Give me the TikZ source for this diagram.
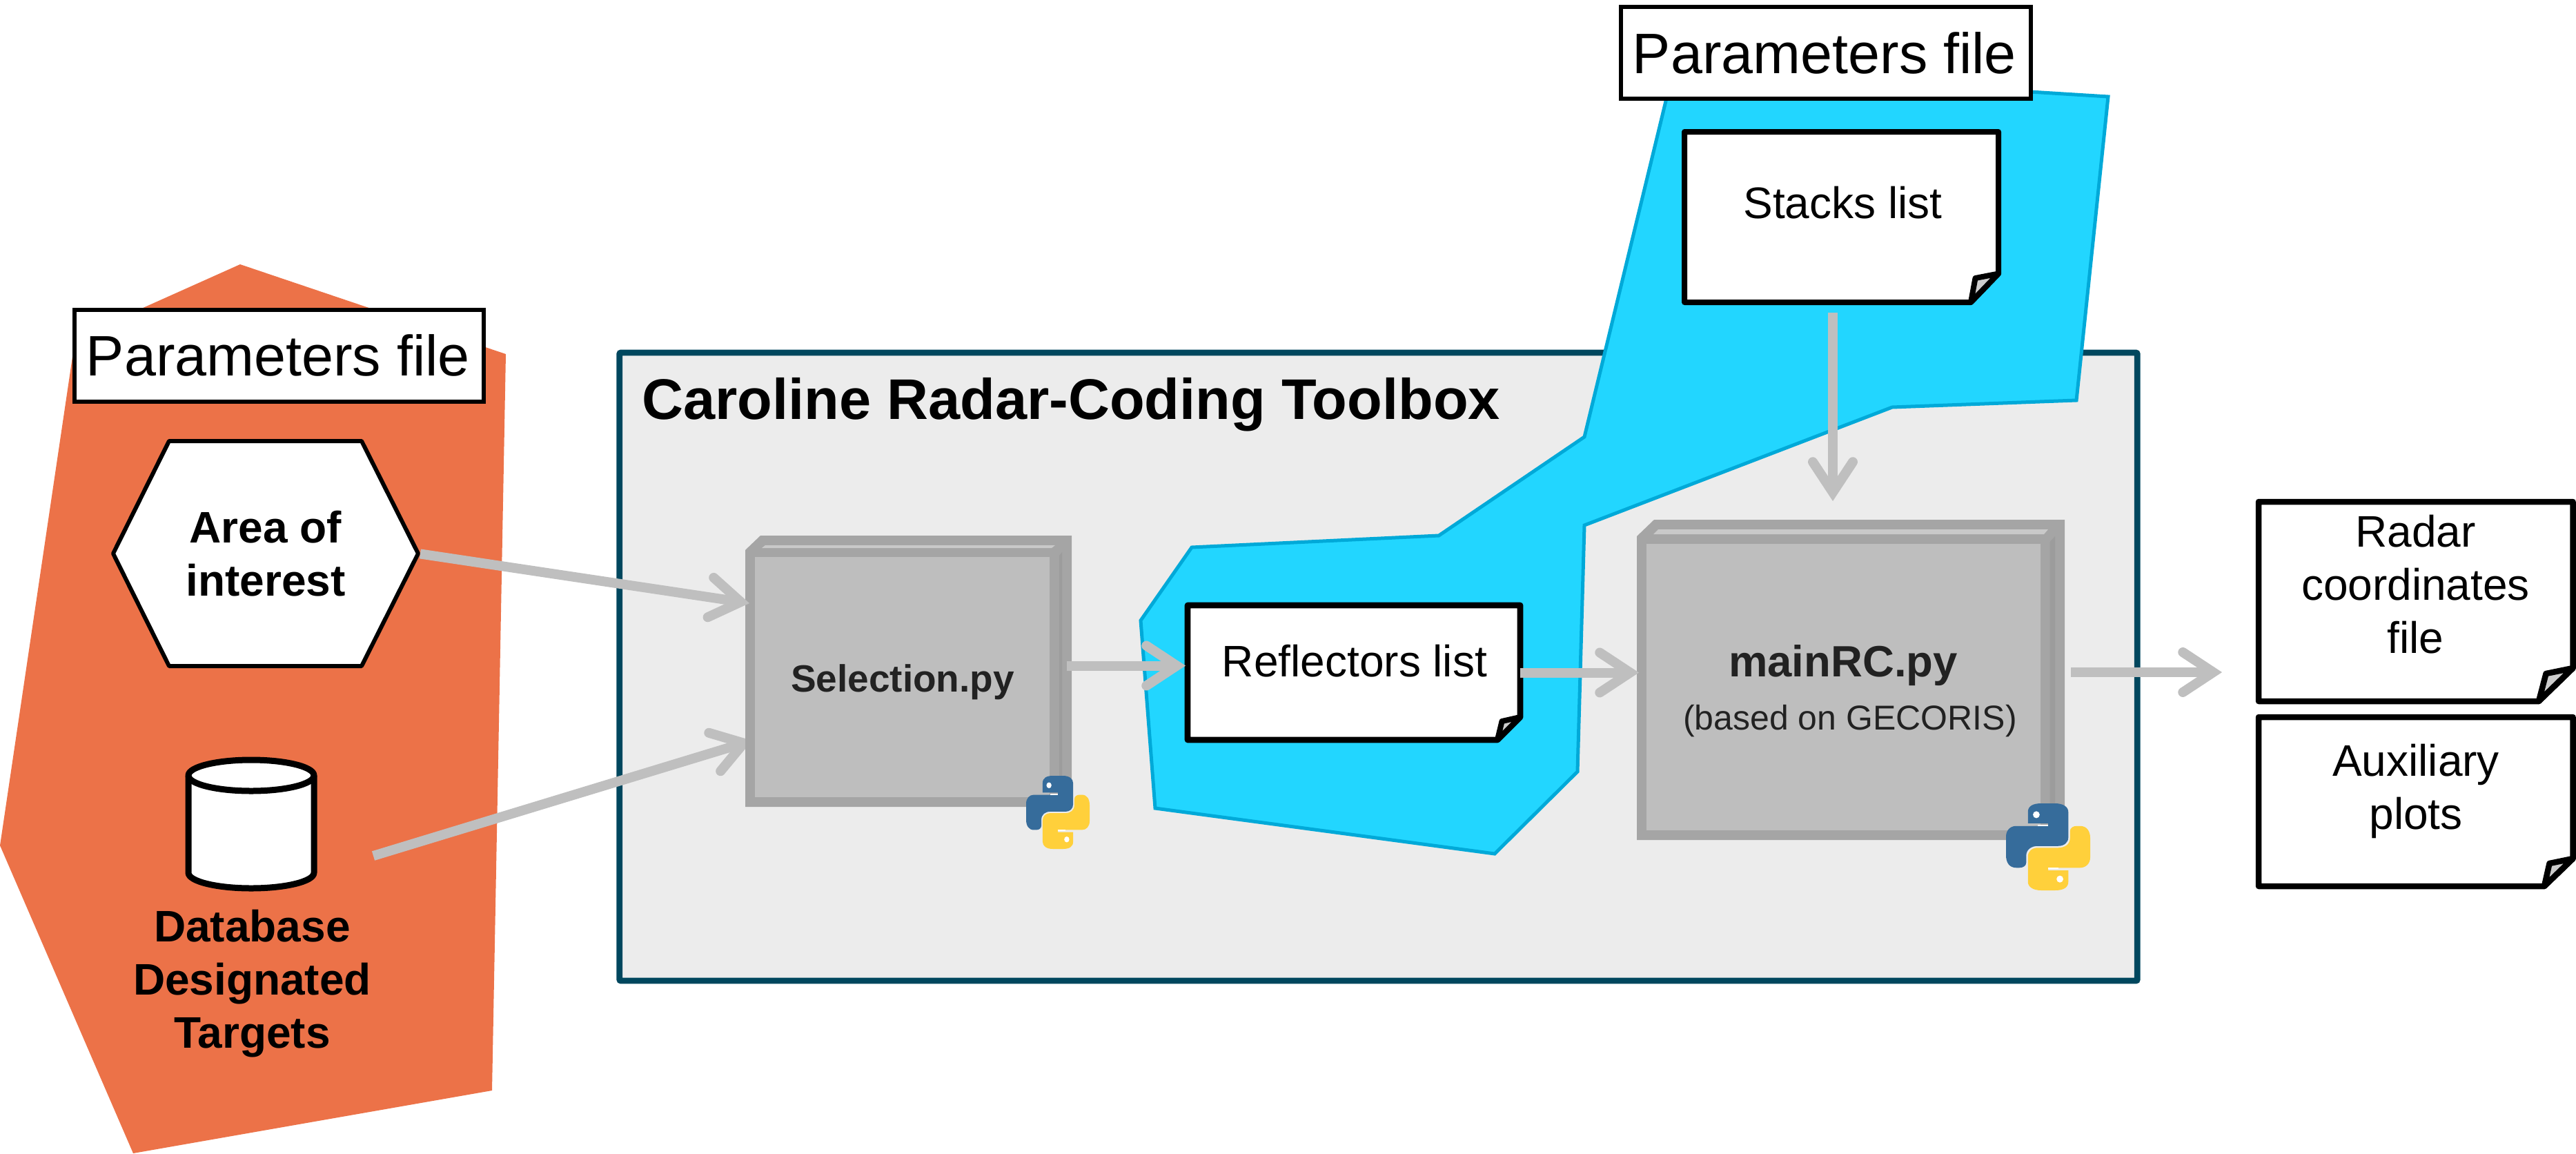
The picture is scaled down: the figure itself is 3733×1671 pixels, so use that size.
\documentclass[tikz,border=0pt]{standalone}
\usepackage{fontspec}
\setmainfont{Liberation Sans}
\usetikzlibrary{arrows.meta}
\definecolor{orangeback}{HTML}{EC7248}
\definecolor{blueback}{HTML}{22D6FF}
\definecolor{blueedge}{HTML}{00A9D8}
\definecolor{tealedge}{HTML}{00475E}
\definecolor{toolbg}{HTML}{ECECEC}
\definecolor{cubeframe}{HTML}{A5A5A5}
\definecolor{cubeface}{HTML}{BEBEBE}
\definecolor{cubelight}{HTML}{C9C9C9}
\definecolor{cubedark}{HTML}{9C9C9C}
\definecolor{flowgrey}{HTML}{BFBFBF}
\definecolor{foldgrey}{HTML}{CDCDCD}
\definecolor{pyblue}{HTML}{366C9B}
\definecolor{pyyellow}{HTML}{FFD03B}
\definecolor{cubetext}{HTML}{222222}
\newcommand{\fsa}{\fontsize{64}{77}\selectfont}
\newcommand{\fsb}{\fontsize{82.7}{90}\selectfont}
\tikzset{
  x=1pt,y=-1pt,
  flow/.style={draw=flowgrey,line width=14pt,
    -{Straight Barb[length=44pt,width=58pt,line width=14pt,line cap=round,line join=miter]}},
  parambox/.style={draw=black,line width=5.5pt,fill=white,inner sep=0pt},
  hidden/.style={inner sep=0pt,outer sep=0pt},
  regular/.style={inner sep=0pt,outer sep=0pt,anchor=base,text=black},
  multi/.style={inner sep=0pt,outer sep=0pt,align=center,text=black,font=\fsa},
  multibold/.style={multi,font=\fsa\bfseries},
  cubetxt/.style={inner sep=0pt,outer sep=0pt,anchor=base,text=cubetext},
  noteline/.style={draw=black,line join=round,fill=white},
  foldline/.style={draw=black,line join=round,fill=foldgrey},
}
\newcommand{\pylogo}[4]{%
  \begin{scope}[shift={(#1,#2)},xscale=#3,yscale=#4]
    \fill[pyblue] (26,10) .. controls (26,3) and (32,0) .. (42,0) -- (58,0)
      .. controls (68,0) and (74,4) .. (74,10) -- (74,39)
      .. controls (74,45) and (69,49) .. (62,49) -- (38,49)
      .. controls (30,49) and (24,53) .. (24,60) -- (24,68)
      .. controls (24,72) and (20,74) .. (16,74) -- (12,74)
      .. controls (4,74) and (0,68) .. (0,60) -- (0,38)
      .. controls (0,31) and (5,26) .. (12,26) -- (50,26) -- (50,23) -- (26,23) -- cycle;
    \fill[pyyellow] (74,90) .. controls (74,97) and (68,100) .. (58,100) -- (42,100)
      .. controls (32,100) and (26,96) .. (26,90) -- (26,61)
      .. controls (26,55) and (31,51) .. (38,51) -- (62,51)
      .. controls (70,51) and (76,47) .. (76,40) -- (76,32)
      .. controls (76,28) and (80,26) .. (84,26) -- (88,26)
      .. controls (96,26) and (100,32) .. (100,40) -- (100,62)
      .. controls (100,69) and (95,74) .. (88,74) -- (50,74) -- (50,77) -- (74,77) -- cycle;
    \fill[white] (36,13) circle[x radius=4,y radius=4];
    \fill[white] (64,87) circle[x radius=4,y radius=4];
    \fill[white] (38,24.5) rectangle (50,26);
    \fill[white] (50,74) rectangle (62,75.5);
  \end{scope}}
\begin{document}
\begin{tikzpicture}
\useasboundingbox (0,0) rectangle (3733,1671);
% orange group
\fill[orangeback] (109,490) -- (348,383) -- (733,513) -- (713,1580) -- (193,1671) -- (0,1225) -- cycle;
% toolbox
\node[draw=tealedge,fill=toolbg,line width=8.7pt,rounded corners=2pt,minimum width=2199.5pt,minimum height=910pt,inner sep=0pt] (toolbox) at (1997.5,966) {};
\node[regular] (tooltitle) at (1552,607) {\fontsize{83}{90}\selectfont\bfseries Caroline Radar-Coding Toolbox};
% left parameters
\node[parambox,minimum width=593pt,minimum height=133pt] (paramA) at (404.5,515.5) {};
\node[regular] (paramAtext) at (403,544) {\fsb Parameters file};
% hexagon
\draw[black,fill=white,line width=6pt,line join=round] (164,802) -- (245,639) -- (524,639) -- (606,802) -- (524,965) -- (245,965) -- cycle;
\node[hidden,minimum width=442pt,minimum height=326pt] (hex) at (385,802) {};
\node[multibold] (hextext) at (385,802) {Area of\\interest};
% database
\draw[black,fill=white,line width=9pt,line join=round] (273,1123.5) -- (273,1264.5) .. controls (273,1277) and (314,1287) .. (364,1287) .. controls (414,1287) and (455,1277) .. (455,1264.5) -- (455,1123.5) .. controls (455,1111) and (414,1101) .. (364,1101) .. controls (314,1101) and (273,1111) .. (273,1123.5) -- cycle;
\draw[black,line width=9pt] (273,1123.5) .. controls (273,1136) and (314,1146) .. (364,1146) .. controls (414,1146) and (455,1136) .. (455,1123.5);
\node[hidden,minimum width=182pt,minimum height=186pt] (db) at (364,1194) {};
\node[multibold] (dbtext) at (365.5,1425) {Database\\Designated\\Targets};
% lower arrow sits beneath the cube
\coordinate (dbOut) at (541,1240);
\coordinate (selInB) at (1090,1073);
\draw[flow] (dbOut) -- (selInB);
% selection cube
\fill[cubeframe] (1080,797) -- (1102,776) -- (1553,776) -- (1553,1169) -- (1080,1169) -- cycle;
\fill[cubelight] (1104,794) -- (1109,790) -- (1529,790) -- (1524,794) -- cycle;
\fill[cubedark] (1535,805) -- (1539,800) -- (1539,1125) -- (1535,1125) -- cycle;
\node[hidden,fill=cubeface,minimum width=427pt,minimum height=348pt] (sel) at (1307.5,981) {};
\node[cubetxt] (seltext) at (1308,1002) {\fontsize{55}{60}\selectfont\bfseries Selection.py};
\pylogo{1487}{1124}{0.92}{1.06}
% hex to selection
\coordinate (selInA) at (1086,874);
\draw[flow,shorten <=3pt] (hex.east) -- (selInA);
% blue group
\draw[blueedge,fill=blueback,line width=5pt,line join=miter] (2425,101) -- (3055,140) -- (3009,580) -- (2742,590) -- (2296,761) -- (2286,1118) -- (2166,1237) -- (1674,1171) -- (1653,899) -- (1727,793) -- (2085,776) -- (2296,633) -- cycle;
% right parameters
\node[parambox,minimum width=594pt,minimum height=133pt] (paramB) at (2646,76.5) {};
\node[regular] (paramBtext) at (2644,106) {\fsb Parameters file};
% stacks
\node[hidden,minimum width=455pt,minimum height=247pt] (stacks) at (2668.5,314.5) {};
\draw[noteline,line width=8pt] (2441,191) -- (2896,191) -- (2896,396.5) -- (2856,438) -- (2441,438) -- cycle;
\draw[foldline,line width=8pt] (2856,438) -- (2862.5,403) -- (2896,396.5) -- cycle;
\node[regular] (stackstext) at (2670.5,316) {\fsa Stacks list};
% reflectors
\node[hidden,minimum width=482pt,minimum height=195pt] (refl) at (1962,974.5) {};
\draw[noteline,line width=8.7pt] (1721,877) -- (2203,877) -- (2203,1039) -- (2170,1072) -- (1721,1072) -- cycle;
\draw[foldline,line width=8pt] (2170,1072) -- (2176.5,1045) -- (2203,1039) -- cycle;
\node[regular] (refltext) at (1963,980) {\fsa Reflectors list};
% main cube
\fill[cubeframe] (2372,777) -- (2397,753) -- (2992,753) -- (2992,1217) -- (2372,1217) -- cycle;
\fill[cubelight] (2396,774) -- (2403,767) -- (2968,767) -- (2962,774) -- cycle;
\fill[cubedark] (2970.5,785) -- (2978,777) -- (2978,1170) -- (2970.5,1170) -- cycle;
\node[hidden,fill=cubeface,minimum width=571pt,minimum height=415pt] (main) at (2671.5,995.5) {};
\node[cubetxt] (maintext) at (2671,980) {\fontsize{63.5}{70}\selectfont\bfseries mainRC.py};
\node[cubetxt] (mainsub) at (2681,1057) {\fontsize{50}{56}\selectfont (based on GECORIS)};
\pylogo{2907}{1164}{1.22}{1.26}
% outputs
\node[hidden,minimum width=455.5pt,minimum height=289pt] (radar) at (3500.75,871.5) {};
\draw[noteline,line width=8.5pt] (3273,727) -- (3728.5,727) -- (3728.5,968) -- (3679,1016) -- (3273,1016) -- cycle;
\draw[foldline,line width=8.5pt] (3679,1016) -- (3689.5,976) -- (3728.5,968) -- cycle;
\node[multi] (radartext) at (3500.5,847) {Radar\\coordinates\\file};
\node[hidden,minimum width=455.5pt,minimum height=245pt] (aux) at (3500.75,1161.5) {};
\draw[noteline,line width=8.5pt] (3273,1039) -- (3728.5,1039) -- (3728.5,1244) -- (3687,1284) -- (3273,1284) -- cycle;
\draw[foldline,line width=8.5pt] (3687,1284) -- (3694.5,1251) -- (3728.5,1244) -- cycle;
\node[multi] (auxtext) at (3501,1146) {Auxiliary\\plots};
% remaining connectors
\coordinate (stacksOut) at (2656,453);
\coordinate (mainInTop) at (2656,726);
\draw[flow] (stacksOut) -- (mainInTop);
\coordinate (selOut) at (1545.5,964.5);
\coordinate (reflIn) at (1718,964.5);
\draw[flow] (selOut) -- (reflIn);
\coordinate (mainInLeft) at (2375,974.5);
\draw[flow] (refl.east) -- (mainInLeft);
\coordinate (mainOut) at (3001,974);
\coordinate (radarIn) at (3220,974);
\draw[flow] (mainOut) -- (radarIn);
\end{tikzpicture}
\end{document}
